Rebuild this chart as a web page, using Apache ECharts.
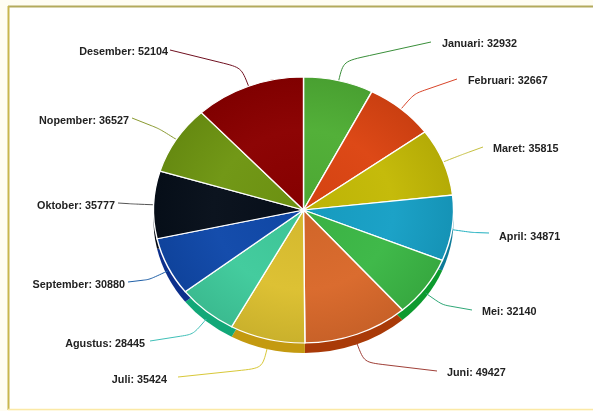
<!DOCTYPE html>
<html><head><meta charset="utf-8">
<style>html,body{margin:0;padding:0;background:#fffdf3}#c{width:593px;height:411px}</style>
<script src="https://cdn.jsdelivr.net/npm/echarts@6/dist/echarts.min.js"></script>
</head><body><div id="c"></div>
<script>
const months = ['Januari','Februari','Maret','April','Mei','Juni','Juli','Agustus','September','Oktober','Nopember','Desember'];
const visitors = [32932,32667,35815,34871,32140,49427,35424,28445,30880,35777,36527,52104];
const sliceColors = ['#4fae35','#dc4512','#c4ba06','#17a0c6','#3cb846','#d9692b','#dcc030','#40cb9c','#1049aa','#070f1a','#6f9612','#8b0000'];
const sideColors = ['#2f8a1c','#a83208','#948a00','#0d7a98','#0d9a2e','#a93a08','#c49a10','#12a878','#0c2f8c','#050a12','#4f7208','#650000'];
const lineColors = ['#3a8f3a','#d8452a','#c6c040','#20b0c0','#30a878','#a04038','#d8c838','#40c0b8','#2060a8','#555555','#8a9a30','#701020'];
// label layout (pixels)
const leaderEndX = [431,457,483,489,472,437,178,150,128,118,132,170];
const leaderEndY = [42,79,147,233,310,371,377,341,282,203,118,50];
const labelX = [442,468,493,499,482,447,167,145,125,115,129,168];
const labelY = [44,81,149,237,312,373,380,344,285,206,121,52];
const labelSide = [1,1,1,1,1,1,-1,-1,-1,-1,-1,-1];

const cx = 303.5, cy = 210, rx = 150, ry = 133, depth = 10, elbow = 20;
const total = visitors.reduce((a,b)=>a+b,0);
const starts = []; visitors.reduce((a,v,i)=>{starts[i]=a; return a+v;},0);
const ang = f => f/total*Math.PI*2 - Math.PI/2;

function shade(hex,k){
  const n=parseInt(hex.slice(1),16);
  const f=c=>Math.max(0,Math.min(255,Math.round(k>0?c+(255-c)*k:c*(1+k))));
  return `rgb(${f(n>>16)},${f((n>>8)&255)},${f(n&255)})`;
}

function renderItem(params, api){
  const i = params.dataIndex, v = api.value(0);
  const a0 = ang(starts[i]), a1 = ang(starts[i]+v), mid=(a0+a1)/2;
  const col = sliceColors[i], side = sideColors[i];
  const ux=Math.cos(mid), uy=Math.sin(mid);
  const sx = cx+rx*ux, sy = cy+ry*uy+Math.max(0,uy)*depth;
  const ex = leaderEndX[i], ey = leaderEndY[i];
  const bx = sx+ux*elbow, by = sy+uy*elbow;
  const kx = bx+(ex-bx)*0.3, ky = by+(ey-by)*0.3;
  const lineStyle = {stroke:lineColors[i],lineWidth:1,fill:null};
  return {type:'group',children:[
    {type:'sector',x:cx,y:cy+depth,scaleY:ry/rx,z2:1,
      shape:{cx:0,cy:0,r:rx,r0:0,startAngle:a0,endAngle:a1,clockwise:true},
      style:{fill:side}},
    {type:'sector',x:cx,y:cy,scaleY:ry/rx,z2:3,
      shape:{cx:0,cy:0,r:rx,r0:0,startAngle:a0,endAngle:a1,clockwise:true},
      style:{stroke:'#fff',lineWidth:1.4,
        fill:{type:'radial',x:0,y:0,r:rx,global:true,colorStops:[
          {offset:0,color:shade(col,-0.04)},{offset:0.6,color:shade(col,0.02)},{offset:1,color:shade(col,-0.08)}]}}},
    {type:'bezierCurve',z2:2,shape:{x1:sx,y1:sy,cpx1:bx,cpy1:by,cpx2:bx,cpy2:by,x2:kx,y2:ky},style:lineStyle},
    {type:'line',z2:2,shape:{x1:kx,y1:ky,x2:ex,y2:ey},style:lineStyle},
    {type:'text',z2:4,x:labelX[i],y:labelY[i],
      style:{text:months[i]+': '+v,fill:'#222',font:'bold 10.8px "Liberation Sans", Arial, sans-serif',
        align:labelSide[i]>0?'left':'right',verticalAlign:'middle'}}
  ]};
}

const chart = echarts.init(document.getElementById('c'),null,{renderer:'canvas'});
chart.setOption({
  animation:false,
  backgroundColor:'#fffdf3',
  graphic:[
    {type:'rect',z:-10,shape:{x:9,y:7,width:590,height:402},style:{fill:'#fff'}},
    {type:'line',z:-9,shape:{x1:8,y1:6.5,x2:593,y2:6.5},style:{stroke:'#b3aa5c',lineWidth:2}},
    {type:'line',z:-9,shape:{x1:8.5,y1:6,x2:8.5,y2:410},style:{stroke:'#c8b64e',lineWidth:2}},
    {type:'line',z:-9,shape:{x1:8,y1:409.5,x2:593,y2:409.5},style:{stroke:'#fbe9a6',lineWidth:1.5}}
  ],
  series:[{type:'custom',coordinateSystem:'none',renderItem,silent:true,
    data:visitors.map((v,i)=>({name:months[i],value:[v]}))}]
});
</script></body></html>
